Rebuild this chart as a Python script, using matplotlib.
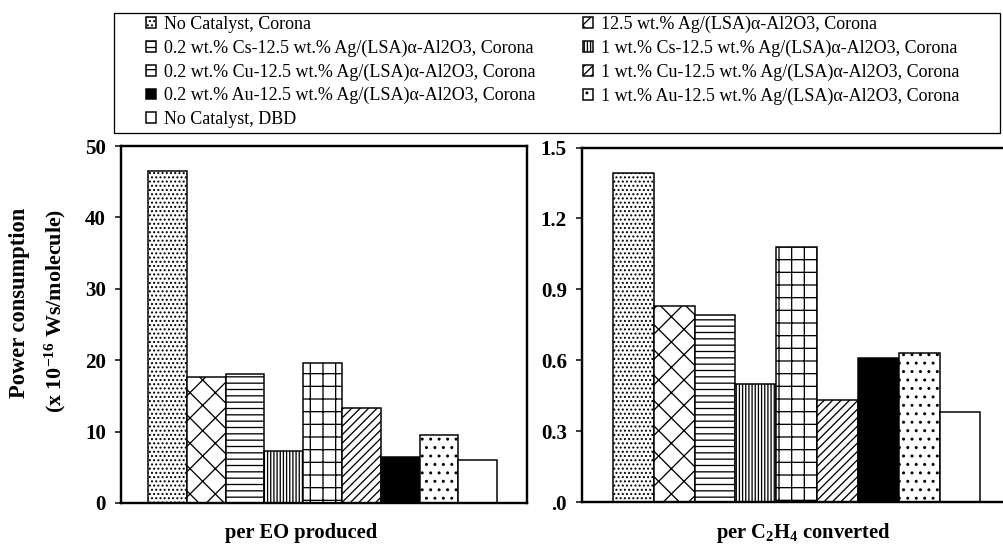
import matplotlib
matplotlib.use("Agg")
import matplotlib.pyplot as plt
from matplotlib.patches import Rectangle

# Canvas geometry (pixels) and resolution
W, H = 1003, 547
DPI = 152.0


def pt(px):
    """Convert a pixel length to points at the figure resolution."""
    return px * 72.0 / DPI


def fx(px):
    return px / W


def fy(py):
    return 1.0 - py / H


# ---------------- data ----------------
catalysts = [
    "No Catalyst, Corona",
    "12.5 wt.% Ag/(LSA)\u03b1-Al2O3, Corona",
    "0.2 wt.% Cs-12.5 wt.% Ag/(LSA)\u03b1-Al2O3, Corona",
    "1 wt.% Cs-12.5 wt.% Ag/(LSA)\u03b1-Al2O3, Corona",
    "0.2 wt.% Cu-12.5 wt.% Ag/(LSA)\u03b1-Al2O3, Corona",
    "1 wt.% Cu-12.5 wt.% Ag/(LSA)\u03b1-Al2O3, Corona",
    "0.2 wt.% Au-12.5 wt.% Ag/(LSA)\u03b1-Al2O3, Corona",
    "1 wt.% Au-12.5 wt.% Ag/(LSA)\u03b1-Al2O3, Corona",
    "No Catalyst, DBD",
]
per_eo_produced = [46.5, 17.7, 18.0, 7.3, 19.6, 13.3, 6.4, 9.5, 6.0]
per_c2h4_converted = [1.39, 0.83, 0.79, 0.50, 1.08, 0.43, 0.61, 0.63, 0.38]

eo_ticks = [0, 10, 20, 30, 40, 50]
eo_ticklabels = ["0", "10", "20", "30", "40", "50"]
c2h4_ticks = [0.0, 0.3, 0.6, 0.9, 1.2, 1.5]
c2h4_ticklabels = [".0", "0.3", "0.6", "0.9", "1.2", "1.5"]

# ---------------- styles ----------------
hatches = ["......", "xx", "----", "||||||||", "++", "//////", "", "...", ""]
faces = ["white"] * 6 + ["black", "white", "white"]

plt.rcParams["font.family"] = ["Liberation Serif", "DejaVu Serif"]
plt.rcParams["mathtext.fontset"] = "custom"
plt.rcParams["mathtext.rm"] = "Liberation Serif"
plt.rcParams["mathtext.bf"] = "Liberation Serif:bold"
plt.rcParams["mathtext.it"] = "Liberation Serif:italic"
plt.rcParams["hatch.linewidth"] = pt(1.3)

fig = plt.figure(figsize=(W / DPI, H / DPI), dpi=DPI)
fig.patch.set_facecolor("white")

# Axes boxes (pixel rectangles)
ax_l = fig.add_axes([fx(121), fy(503), fx(527) - fx(121), fy(146) - fy(503)])
ax_r = fig.add_axes([fx(582), fy(502), fx(1013) - fx(582), fy(147.5) - fy(502)])

x = list(range(len(catalysts)))


def draw_panel(ax, values, ticks, ticklabels, ylim, xlim):
    bars = ax.bar(x, values, width=1.0, color=faces, edgecolor="black",
                  linewidth=pt(1.5), zorder=2)
    for b, h in zip(bars, hatches):
        b.set_hatch(h)
    ax.set_ylim(*ylim)
    ax.set_xlim(*xlim)
    ax.set_xticks([])
    ax.set_yticks(ticks)
    ax.set_yticklabels(ticklabels, fontsize=pt(21), fontweight="bold")
    ax.tick_params(axis="y", direction="out", length=pt(6), width=pt(1.5),
                   pad=pt(9))
    for s in ax.spines.values():
        s.set_linewidth(pt(2.4))
    return bars


bars_l = draw_panel(ax_l, per_eo_produced, eo_ticks, eo_ticklabels,
                    (0, 50), (-1.196, 9.268))
draw_panel(ax_r, per_c2h4_converted, c2h4_ticks, c2h4_ticklabels,
           (0, 1.5), (-1.26, 9.30))

# Y-axis title (two lines)
fig.text(fx(20), fy(303), "Power consumption", rotation=90, ha="center",
         va="center", fontsize=pt(22.5), fontweight="bold")
fig.text(fx(55), fy(311), r"(x 10$^{\mathbf{-16}}$ Ws/molecule)", rotation=90,
         ha="center", va="center", fontsize=pt(22), fontweight="bold")

# Panel captions
fig.text(fx(301), fy(533), "per EO produced", ha="center", va="center",
         fontsize=pt(20.5), fontweight="bold")
fig.text(fx(803), fy(533), r"per $\mathbf{C_2H_4}$ converted", ha="center",
         va="center", fontsize=pt(20.5), fontweight="bold")

# Legend: framed box with two columns
fig.patches.append(Rectangle((fx(114), fy(133)), fx(1000) - fx(114),
                             fy(13) - fy(133), transform=fig.transFigure,
                             facecolor="white", edgecolor="black",
                             linewidth=pt(1.3), zorder=0))

col1 = [0, 2, 4, 6, 8]
col2 = [1, 3, 5, 7]
leg_kw = dict(loc="upper left", frameon=False, fontsize=pt(18),
              handlelength=0.55, handleheight=0.55, handletextpad=0.45,
              labelspacing=0.36, borderpad=0.0, borderaxespad=0.0)
fig.legend([bars_l[i] for i in col1], [catalysts[i] for i in col1],
           bbox_to_anchor=(fx(146), fy(16)), **leg_kw)
fig.legend([bars_l[i] for i in col2], [catalysts[i] for i in col2],
           bbox_to_anchor=(fx(583), fy(16)), **leg_kw)

fig.savefig("out.png", dpi=DPI, facecolor="white")
